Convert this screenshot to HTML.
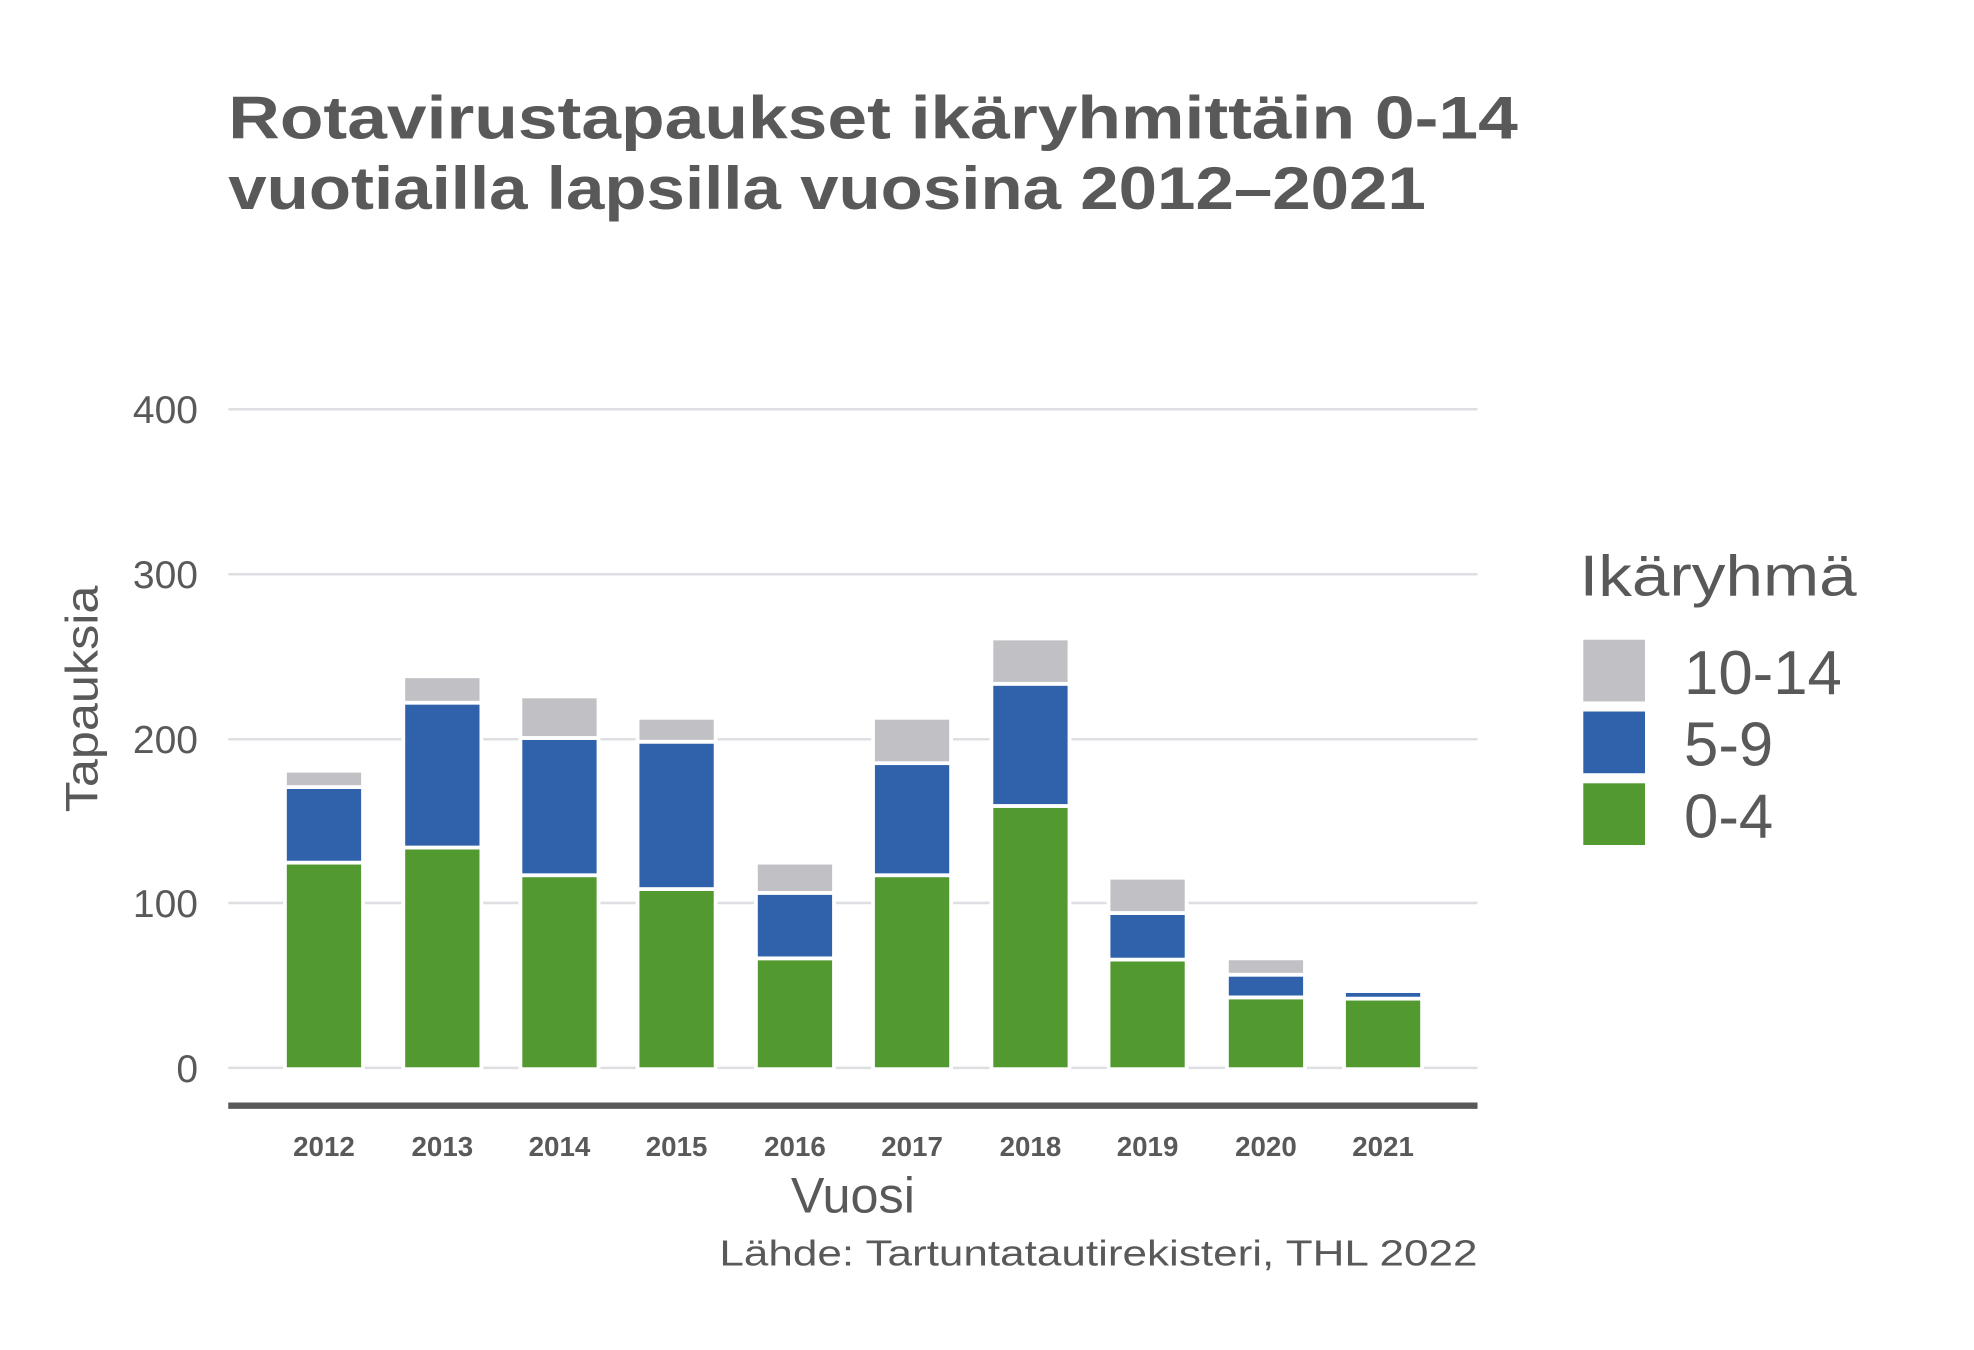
<!DOCTYPE html>
<html><head><meta charset="utf-8"><style>html,body{margin:0;padding:0;background:#fff}svg{display:block}</style></head>
<body>
<svg width="1974" height="1350" viewBox="0 0 1567 1072" xmlns="http://www.w3.org/2000/svg" font-family="Liberation Sans, sans-serif" fill="#595959">
<rect width="1567" height="1072" fill="#fff"/>
<text x="181" y="110" font-size="48" font-weight="bold" textLength="1024" lengthAdjust="spacingAndGlyphs">Rotavirustapaukset ikäryhmittäin 0-14</text>
<text x="181" y="166" font-size="48" font-weight="bold" textLength="951" lengthAdjust="spacingAndGlyphs">vuotiailla lapsilla vuosina 2012–2021</text>
<g stroke="#dedfe2" stroke-width="2">
<line x1="181" x2="1173" y1="325" y2="325"/><line x1="181" x2="1173" y1="456" y2="456"/><line x1="181" x2="1173" y1="587" y2="587"/><line x1="181" x2="1173" y1="717" y2="717"/><line x1="181" x2="1173" y1="848" y2="848"/>
</g>
<g font-size="31" text-anchor="end">
<text x="157" y="336">400</text><text x="157" y="467">300</text><text x="157" y="598">200</text><text x="157" y="728">100</text><text x="157" y="859">0</text>
</g>
<text transform="translate(77,555) rotate(-90)" font-size="36" text-anchor="middle" textLength="180" lengthAdjust="spacingAndGlyphs">Tapauksia</text>
<g stroke="#fff" stroke-width="3">
<g transform="translate(257,0)"><rect x="-31" y="685" width="62" height="164" fill="#529a30"/><rect x="-31" y="625" width="62" height="60" fill="#2f62ab"/><rect x="-31" y="612" width="62" height="13" fill="#c1c1c5"/></g>
<g transform="translate(351,0)"><rect x="-31" y="673" width="62" height="176" fill="#529a30"/><rect x="-31" y="558" width="62" height="115" fill="#2f62ab"/><rect x="-31" y="537" width="62" height="21" fill="#c1c1c5"/></g>
<g transform="translate(444,0)"><rect x="-31" y="695" width="62" height="154" fill="#529a30"/><rect x="-31" y="586" width="62" height="109" fill="#2f62ab"/><rect x="-31" y="553" width="62" height="33" fill="#c1c1c5"/></g>
<g transform="translate(537,0)"><rect x="-31" y="706" width="62" height="143" fill="#529a30"/><rect x="-31" y="589" width="62" height="117" fill="#2f62ab"/><rect x="-31" y="570" width="62" height="19" fill="#c1c1c5"/></g>
<g transform="translate(631,0)"><rect x="-31" y="761" width="62" height="88" fill="#529a30"/><rect x="-31" y="709" width="62" height="52" fill="#2f62ab"/><rect x="-31" y="685" width="62" height="24" fill="#c1c1c5"/></g>
<g transform="translate(724,0)"><rect x="-31" y="695" width="62" height="154" fill="#529a30"/><rect x="-31" y="606" width="62" height="89" fill="#2f62ab"/><rect x="-31" y="570" width="62" height="36" fill="#c1c1c5"/></g>
<g transform="translate(818,0)"><rect x="-31" y="640" width="62" height="209" fill="#529a30"/><rect x="-31" y="543" width="62" height="97" fill="#2f62ab"/><rect x="-31" y="507" width="62" height="36" fill="#c1c1c5"/></g>
<g transform="translate(911,0)"><rect x="-31" y="762" width="62" height="87" fill="#529a30"/><rect x="-31" y="725" width="62" height="37" fill="#2f62ab"/><rect x="-31" y="697" width="62" height="28" fill="#c1c1c5"/></g>
<g transform="translate(1005,0)"><rect x="-31" y="792" width="62" height="57" fill="#529a30"/><rect x="-31" y="774" width="62" height="18" fill="#2f62ab"/><rect x="-31" y="761" width="62" height="13" fill="#c1c1c5"/></g>
<g transform="translate(1098,0)"><rect x="-31" y="793" width="62" height="56" fill="#529a30"/><rect x="-31" y="787" width="62" height="6" fill="#2f62ab"/></g>
</g>
<line x1="181" x2="1173" y1="878" y2="878" stroke="#595959" stroke-width="5"/>
<g font-size="22" font-weight="bold" text-anchor="middle">
<text x="257" y="918">2012</text><text x="351" y="918">2013</text><text x="444" y="918">2014</text><text x="537" y="918">2015</text><text x="631" y="918">2016</text><text x="724" y="918">2017</text><text x="818" y="918">2018</text><text x="911" y="918">2019</text><text x="1005" y="918">2020</text><text x="1098" y="918">2021</text>
</g>
<text x="677" y="963" font-size="40" text-anchor="middle">Vuosi</text>
<text x="1173" y="1005" font-size="29" text-anchor="end" textLength="602" lengthAdjust="spacingAndGlyphs">Lähde: Tartuntatautirekisteri, THL 2022</text>
<text x="1254" y="473" font-size="46" textLength="220" lengthAdjust="spacingAndGlyphs">Ikäryhmä</text>
<rect x="1257" y="508" width="49" height="49" fill="#c1c1c5"/>
<rect x="1257" y="565" width="49" height="49" fill="#2f62ab"/>
<rect x="1257" y="622" width="49" height="49" fill="#529a30"/>
<g font-size="49"><text x="1337" y="551">10-14</text><text x="1337" y="608">5-9</text><text x="1337" y="665">0-4</text></g>
</svg>
</body></html>
